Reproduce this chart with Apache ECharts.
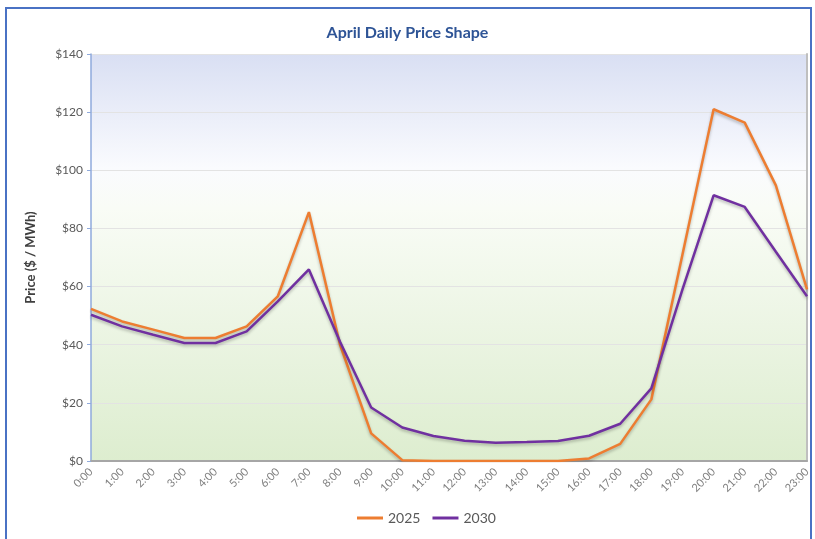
<!DOCTYPE html>
<html>
<head>
<meta charset="utf-8">
<script src="https://cdn.jsdelivr.net/npm/echarts@6/dist/echarts.min.js"></script>
<style>
    html, body { margin: 0; padding: 0; background: #fff; }
    #priceChart { width: 815px; height: 539px; }
</style>
</head>
<body>
<div id="priceChart"></div>
<script>
// 数据
const hours = ['0:00', '1:00', '2:00', '3:00', '4:00', '5:00', '6:00', '7:00', '8:00', '9:00', '10:00', '11:00',
    '12:00', '13:00', '14:00', '15:00', '16:00', '17:00', '18:00', '19:00', '20:00', '21:00', '22:00', '23:00'];
const price2025 = [52.3, 48, 45.2, 42.3, 42.3, 46.3, 56.6, 85.6, 40, 9.5, 0.3, 0, 0, 0, 0, 0, 0.9, 5.9, 21.2, 71, 121, 116.4, 94.8, 59];
const price2030 = [50.3, 46.3, 43.4, 40.6, 40.6, 44.6, 54.9, 65.9, 41, 18.4, 11.5, 8.6, 7, 6.3, 6.5, 6.9, 8.7, 12.8, 25, 59, 91.4, 87.4, 72, 56.7];
const yTicks = [0, 140, 20]; // min, max, interval

/**
 * 初始化四月日价格曲线
 */
function initPriceChart() {
    let priceChart = echarts.init(document.getElementById('priceChart'));

    // 线条阴影
    let lineShadow = {
        shadowColor: 'rgba(0,0,0,0.25)',
        shadowBlur: 3,
        shadowOffsetY: 2
    };

    let priceChartOption = {
        backgroundColor: '#fff',
        title: {
            text: 'April Daily Price Shape',
            left: 'center',
            top: 20,
            textStyle: {
                color: '#2e5496',
                fontFamily: 'Lato',
                fontSize: 16,
                fontWeight: 'bold'
            }
        },
        graphic: [
            {
                type: 'rect',
                silent: true,
                shape: {x: 6, y: 8, width: 805, height: 540},
                style: {fill: 'none', stroke: '#4a72c4', lineWidth: 2}
            }
        ],
        legend: {
            bottom: 9,
            left: 352,
            icon: 'rect',
            itemWidth: 26,
            itemHeight: 3,
            itemGap: 12,
            textStyle: {color: '#595959', fontFamily: 'Lato', fontSize: 14},
            data: ['2025', '2030']
        },
        grid: {
            left: 91,
            right: 8,
            top: 54,
            bottom: 78,
            show: true,
            borderWidth: 0,
            backgroundColor: {
                type: 'linear',
                x: 0, y: 0, x2: 0, y2: 1,
                colorStops: [
                    {offset: 0, color: '#d9dff3'},
                    {offset: 0.28, color: '#fafbfe'},
                    {offset: 0.38, color: '#f9fcf6'},
                    {offset: 1, color: '#ddedcf'}
                ]
            }
        },
        xAxis: {
            type: 'category',
            data: hours,
            boundaryGap: false,
            axisLine: {lineStyle: {color: '#a6a6a6', width: 2}},
            axisTick: {show: false},
            axisLabel: {
                rotate: 45,
                interval: 0,
                color: '#7f7f7f',
                fontFamily: 'Lato',
                fontSize: 11,
                margin: 9
            },
            splitLine: {show: false}
        },
        yAxis: [
            {
                type: 'value',
                min: yTicks[0],
                max: yTicks[1],
                interval: yTicks[2],
                name: 'Price ($ / MWh)',
                nameLocation: 'middle',
                nameGap: 54,
                nameTextStyle: {color: '#404040', fontFamily: 'Lato', fontSize: 13, fontWeight: 'bold'},
                axisLine: {show: true, lineStyle: {color: '#8faadc', width: 1.5}},
                axisTick: {show: true, length: 4, lineStyle: {color: '#8faadc'}},
                axisLabel: {
                    color: '#595959',
                    fontFamily: 'Lato',
                    fontSize: 12,
                    formatter: function (v) { return '$' + v; }
                },
                splitLine: {lineStyle: {color: '#e3e3e3'}}
            },
            {
                type: 'value',
                position: 'right',
                min: yTicks[0],
                max: yTicks[1],
                interval: yTicks[2],
                axisLine: {show: true, lineStyle: {color: '#bfbfbf', width: 2}},
                axisTick: {show: false},
                axisLabel: {show: false},
                splitLine: {show: false}
            }
        ],
        series: [
            {
                name: '2025',
                type: 'line',
                data: price2025,
                symbol: 'none',
                color: '#ed7d31',
                lineStyle: Object.assign({width: 2.5, color: '#ed7d31'}, lineShadow)
            },
            {
                name: '2030',
                type: 'line',
                data: price2030,
                symbol: 'none',
                color: '#7030a0',
                lineStyle: Object.assign({width: 2.5, color: '#7030a0'}, lineShadow)
            }
        ]
    };

    priceChart.setOption(priceChartOption);
}

initPriceChart();
</script>
</body>
</html>
